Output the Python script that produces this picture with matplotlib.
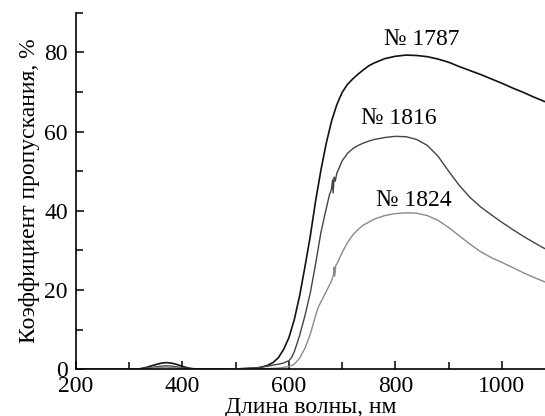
import matplotlib
matplotlib.use('Agg')
import matplotlib.pyplot as plt
from matplotlib.ticker import MultipleLocator

plt.rcParams['font.family'] = ['Liberation Serif', 'DejaVu Serif']

# sample 1787
wl_1787 = [200, 300, 310, 320, 330, 340, 350, 360, 370, 380, 390, 400, 410,
           420, 440, 500, 540, 550, 560, 570, 580, 590, 600, 610, 620, 630,
           640, 650, 660, 670, 680, 690, 700, 710, 720, 730, 740, 750, 760,
           780, 800, 820, 840, 860, 880, 900, 920, 940, 960, 980, 1000, 1020,
           1040, 1060, 1080]
t_1787 = [0, 0, 0, 0.15, 0.4, 0.8, 1.2, 1.55, 1.7, 1.55, 1.2, 0.75, 0.35,
          0.15, 0.05, 0.1, 0.3, 0.6, 1.0, 1.7, 2.9, 5.0, 8.0, 12.5, 18.5, 25.8,
          33.5, 42.4, 50.2, 57.0, 62.6, 66.8, 69.9, 71.9, 73.3, 74.5, 75.6, 76.6, 77.3,
          78.4, 79.0, 79.3, 79.2, 78.9, 78.3, 77.5, 76.4, 75.4, 74.4, 73.3, 72.2, 71.0,
          69.9, 68.7, 67.6]

# sample 1816
wl_1816 = [200, 310, 320, 340, 360, 370, 380, 400, 420, 500, 540, 560, 580,
           590, 600, 605, 610, 620, 630, 640, 650, 660, 670, 676, 680, 682,
           683, 685, 687, 690, 700, 710, 720, 730, 740, 750, 760, 780, 800,
           820, 840, 860, 880, 900, 920, 940, 960, 980, 1000, 1020, 1040, 1060,
           1080]
t_1816 = [0, 0, 0.1, 0.45, 0.8, 0.9, 0.8, 0.4, 0.1, 0.1, 0.4, 0.8, 1.3,
          1.6, 2.2, 3.0, 4.4, 8.5, 13.5, 19.2, 26.5, 34.5, 40.5, 44.0, 45.5, 47.8,
          44.5, 48.5, 47.5, 49.5, 52.6, 54.5, 55.7, 56.5, 57.1, 57.6, 58.0, 58.5, 58.8,
          58.7, 58.0, 56.5, 53.8, 50.0, 46.4, 43.4, 41.0, 39.0, 37.1, 35.3, 33.6, 32.0,
          30.5]

# sample 1824
wl_1824 = [200, 320, 340, 360, 370, 380, 400, 420, 560, 580, 590, 600, 610,
           620, 630, 640, 650, 655, 660, 670, 680, 684, 685, 686, 688, 690,
           700, 710, 720, 730, 740, 760, 780, 800, 820, 840, 860, 880, 900,
           920, 940, 960, 980, 1000, 1020, 1040, 1060, 1080]
t_1824 = [0, 0, 0.3, 0.5, 0.55, 0.5, 0.2, 0, 0.2, 0.3, 0.5, 0.7, 1.3,
          2.8, 5.3, 8.8, 13.5, 15.6, 17.0, 19.6, 22.3, 24.0, 25.8, 23.5, 26.2, 26.6,
          29.5, 32.0, 33.9, 35.3, 36.4, 37.9, 38.8, 39.3, 39.5, 39.4, 38.8, 37.6, 35.8,
          33.7, 31.6, 29.7, 28.2, 27.0, 25.7, 24.4, 23.2, 22.1]

labels = ['№ 1787', '№ 1816', '№ 1824']
label_pos = [(850, 83.2), (807, 63.4), (835, 42.7)]

fig = plt.figure(figsize=(5.45, 4.16), dpi=100)
ax = fig.add_axes([0.1394, 0.1122, 0.8606, 0.8573])

ax.plot(wl_1787, t_1787, '-', lw=1.2, color='#111111')
ax.plot(wl_1816, t_1816, '-', lw=1.0, color='#444444')
ax.plot(wl_1824, t_1824, '-', lw=1.0, color='#8a8a8a')

for txt, (x, y) in zip(labels, label_pos):
    ax.text(x, y, txt, ha='center', va='center', fontsize=17)

ax.set_xlim(200, 1081)
ax.set_ylim(0, 90)
ax.xaxis.set_major_locator(MultipleLocator(200))
ax.xaxis.set_minor_locator(MultipleLocator(100))
ax.yaxis.set_major_locator(MultipleLocator(20))
ax.yaxis.set_minor_locator(MultipleLocator(10))
ax.tick_params(which='both', direction='in', labelsize=17, width=1.1)
ax.tick_params(which='major', length=6)
ax.tick_params(which='minor', length=5)
ax.tick_params(axis='y', pad=6)
ax.tick_params(axis='x', pad=5)

for s in ['top', 'right']:
    ax.spines[s].set_visible(False)
for s in ['left', 'bottom']:
    ax.spines[s].set_linewidth(1.2)

ax.set_xlabel('Длина волны, нм', fontsize=17, labelpad=0)
ax.set_ylabel('Коэффициент пропускания, %', fontsize=17, labelpad=3)

fig.savefig('out.png', dpi=100)
